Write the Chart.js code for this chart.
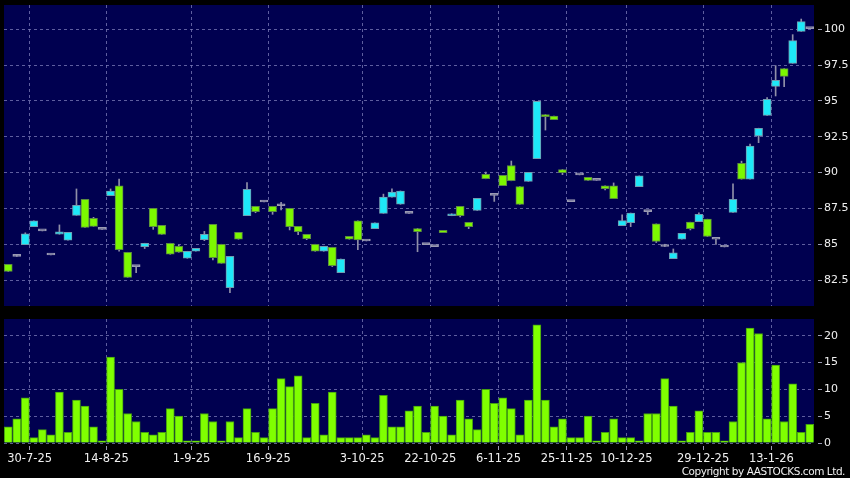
<!DOCTYPE html>
<html>
<head>
<meta charset="utf-8">
<script src="https://cdn.jsdelivr.net/npm/chart.js@4.4.1/dist/chart.umd.min.js"></script>
<style>
  html, body { margin: 0; padding: 0; background: #000; }
  #wrap { position: relative; width: 850px; height: 478px; background: #000; overflow: hidden; }
  #price { position: absolute; left: 0; top: 0; }
  #vol { position: absolute; left: 0; top: 312px; }
  #copy { position: absolute; right: 5px; top: 465px; color: #f0f0f0; font: 10.5px "DejaVu Sans", sans-serif; letter-spacing: -0.45px; }
</style>
</head>
<body>
<div id="wrap">
  <canvas id="price" width="850" height="312"></canvas>
  <canvas id="vol" width="850" height="166"></canvas>
  <div id="copy">Copyright by AASTOCKS.com Ltd.</div>
</div>
<script>
// daily candles, oldest first
var openPrice = [83.6,84.15,84.97,86.23,85.93,84.25,85.7,85.28,87.02,88.14,
  86.81,86.04,88.39,89.07,84.44,83.44,84.83,87.51,86.32,85.07,
  84.86,84.02,84.51,85.32,86.39,85.0,81.97,85.83,87.0,87.65,
  87.95,87.65,87.69,87.51,86.25,85.69,85.0,84.51,84.79,83.02,
  85.55,86.63,85.23,86.09,87.16,88.28,87.79,87.16,86.1,84.97,
  84.83,85.97,86.99,87.64,86.53,87.36,89.88,88.41,89.81,90.5,
  89.02,89.39,90.97,94.05,93.95,90.22,87.98,89.84,89.67,89.46,
  89.07,89.07,86.3,86.51,89.02,87.28,86.42,84.84,84.0,85.35,
  86.54,86.58,86.75,85.35,84.81,87.23,90.65,89.54,92.56,94.0,
  96.02,97.26,97.63,99.86,100.05];
var highPrice = [83.6,84.25,85.8,86.63,85.93,84.25,86.35,85.83,88.86,88.14,
  86.88,86.04,88.86,89.55,84.44,83.44,85.07,87.51,86.32,85.07,
  84.95,84.51,84.72,85.9,86.39,85.0,84.16,85.83,89.3,87.65,
  87.95,87.65,87.93,87.51,86.25,85.69,85.0,84.86,84.79,83.97,
  85.55,86.63,85.23,86.49,88.5,88.86,88.72,87.16,86.1,84.97,
  84.83,85.97,87.13,87.64,86.53,88.2,90.04,88.41,89.81,90.81,
  89.02,90.02,94.97,94.05,93.95,90.22,87.98,89.84,89.67,89.46,
  89.07,89.28,87.05,87.18,89.77,87.28,86.42,85.0,84.67,85.77,
  86.54,87.19,86.75,85.35,84.81,89.21,90.8,92.0,93.1,95.23,
  97.47,97.26,99.63,100.72,100.05];
var lowPrice = [83.1,84.15,84.97,86.23,85.93,84.25,85.7,85.28,87.02,86.18,
  86.25,86.04,88.39,84.51,82.69,83.02,84.7,86.04,85.69,84.3,
  84.44,84.02,84.51,85.25,83.9,83.67,81.62,85.35,87.0,87.2,
  87.95,87.09,87.39,86.0,85.67,85.32,84.51,84.51,83.44,83.02,
  85.35,84.62,85.23,86.09,87.16,88.28,87.79,87.16,84.48,84.97,
  84.83,85.81,86.99,86.9,86.09,87.36,89.57,87.99,89.09,89.43,
  87.78,89.39,90.97,92.97,93.69,89.86,87.98,89.84,89.46,89.46,
  88.79,88.18,86.3,86.23,89.02,87.07,85.12,84.84,84.0,85.35,
  86.0,86.58,85.54,84.98,84.81,87.23,89.54,89.54,92.09,94.0,
  95.35,96.0,97.63,99.86,100.05];
var closePrice = [83.1,84.15,85.72,86.63,85.93,84.25,85.86,85.83,87.72,86.18,
  86.25,86.04,88.72,84.62,82.69,83.44,85.07,86.23,85.69,84.3,
  84.44,84.51,84.72,85.69,84.07,83.67,84.16,85.35,88.83,87.28,
  87.95,87.28,87.69,86.23,85.88,85.39,84.51,84.86,83.51,83.97,
  85.35,85.3,85.23,86.49,88.3,88.65,88.72,87.16,85.88,84.97,
  84.83,85.81,87.13,86.99,86.23,88.2,89.57,88.41,89.09,89.43,
  87.78,90.02,94.97,93.9,93.69,89.99,87.98,89.84,89.46,89.46,
  88.88,88.18,86.65,87.18,89.77,87.28,85.19,84.84,84.4,85.77,
  86.09,87.09,85.54,85.35,84.81,88.14,89.54,91.86,93.1,95.12,
  96.44,96.72,99.21,100.54,100.05];
var volume = [3.0,4.5,8.4,1.0,2.5,1.5,9.5,2.0,8.0,6.9,
  3.0,0.4,16.0,10.0,5.5,4.0,2.0,1.5,2.0,6.4,
  5.0,0.4,0.4,5.5,4.0,0.4,4.0,1.0,6.4,2.0,
  1.0,6.4,12.0,10.5,12.5,1.0,7.4,1.5,9.5,1.0,
  1.0,1.0,1.5,1.0,8.9,3.0,3.0,6.0,6.9,2.0,
  6.9,5.0,1.5,8.0,4.5,2.5,10.0,7.4,8.4,6.4,
  1.5,8.0,22.0,8.0,3.0,4.5,1.0,1.0,5.0,0.4,
  2.0,4.5,1.0,1.0,0.4,5.5,5.5,12.0,6.9,0.4,
  2.0,6.0,2.0,2.0,0.4,4.0,15.0,21.4,20.4,4.5,
  14.5,4.0,11.0,2.0,3.5];

// x axis labels and the bar slot each one sits on
var dateLabels = ["30-7-25","14-8-25","1-9-25","16-9-25","3-10-25","22-10-25",
  "6-11-25","25-11-25","10-12-25","29-12-25","13-1-26"];
var dateSlots = [2.5,11.5,21.5,30.5,41.5,49.5,57.5,65.5,72.5,81.5,89.5];
var priceTicks = [82.5,85,87.5,90,92.5,95,97.5,100];
var volumeTicks = [0,5,10,15,20];

var UP = "#1ee8f8", UP_EDGE = "#6f9cb0";
var DOWN = "#7cf800", DOWN_EDGE = "#5c8c40";
var FLAT = "#9a9ab2";
var GRID = "rgba(125,125,185,0.75)";
var LABEL = "#f0f0f0";
var FONT = { family: "DejaVu Sans", size: 11 };
var DATE_FONT = { family: "DejaVu Sans", size: 11.5 };

var bodies = [], wicks = [], bodyFill = [], bodyEdge = [];
openPrice.forEach(function (o, i) {
  var c = closePrice[i];
  bodies.push({ x: i, y: [Math.min(o, c), Math.max(o, c)] });
  wicks.push({ x: i, y: [lowPrice[i], highPrice[i]] });
  if (c > o) { bodyFill.push(UP); bodyEdge.push(UP_EDGE); }
  else if (c < o) { bodyFill.push(DOWN); bodyEdge.push(DOWN_EDGE); }
  else { bodyFill.push(FLAT); bodyEdge.push(FLAT); }
});
var volBars = volume.map(function (v, i) { return { x: i, y: v }; });

// navy fill behind the plot area
var plotBg = {
  id: "plotBg",
  beforeDraw: function (chart) {
    var a = chart.chartArea, ctx = chart.ctx;
    ctx.save();
    ctx.fillStyle = "#000050";
    ctx.fillRect(a.left, a.top, a.right - a.left, a.bottom - a.top);
    ctx.restore();
  }
};

function xAxis(showLabels) {
  return {
    type: "linear", min: -0.5, max: 94.5, offset: false,
    afterBuildTicks: function (axis) {
      axis.ticks = dateSlots.map(function (v) { return { value: v }; });
    },
    afterFit: function (axis) {
      axis.height = showLabels ? 35 : 0;
      axis.paddingLeft = 0; axis.paddingRight = 0;
    },
    ticks: {
      display: showLabels, autoSkip: false, maxRotation: 0, color: LABEL, font: DATE_FONT, padding: 2,
      callback: function (v) { var k = dateSlots.indexOf(v); return k >= 0 ? dateLabels[k] : ""; }
    },
    grid: { offset: false, color: GRID, drawTicks: showLabels, tickLength: 7, tickColor: "#9a9ab2", tickBorderDash: [0, 3, 4, 0] },
    border: { display: false, dash: [3, 3] }
  };
}

function yAxis(min, max, list) {
  return {
    position: "right", min: min, max: max,
    afterBuildTicks: function (axis) {
      axis.ticks = list.map(function (v) { return { value: v }; });
    },
    afterFit: function (axis) {
      axis.width = 36;
      axis.paddingTop = 0; axis.paddingBottom = 0;
    },
    ticks: { color: LABEL, font: FONT, padding: 2 },
    grid: { color: GRID, tickLength: 8, tickColor: "#9a9ab2", tickBorderDash: [0, 4, 4, 0] },
    border: { display: false, dash: [3, 3] }
  };
}

new Chart(document.getElementById("price"), {
  type: "bar",
  data: {
    datasets: [
      { label: "body", data: bodies, backgroundColor: bodyFill, borderColor: bodyEdge,
        borderWidth: 1, borderSkipped: false, barThickness: 8, minBarLength: 2, grouped: false, order: 0 },
      { label: "wick", data: wicks, backgroundColor: "#9090a8", barThickness: 1, grouped: false, order: 1 }
    ]
  },
  options: {
    responsive: false, animation: false,
    layout: { padding: { left: 4, top: 5, right: 0, bottom: 6 } },
    plugins: { legend: { display: false }, tooltip: { enabled: false } },
    scales: { x: xAxis(false), y: yAxis(80.69, 101.7, priceTicks) }
  },
  plugins: [plotBg]
});

new Chart(document.getElementById("vol"), {
  type: "bar",
  data: {
    datasets: [
      { label: "volume", data: volBars, backgroundColor: "#80ff00", borderColor: "#44a010",
        borderWidth: 1, barThickness: 8 }
    ]
  },
  options: {
    responsive: false, animation: false,
    layout: { padding: { left: 4, top: 7, right: 0, bottom: 0 } },
    plugins: { legend: { display: false }, tooltip: { enabled: false } },
    scales: { x: xAxis(true), y: yAxis(0, 23.1, volumeTicks) }
  },
  plugins: [plotBg]
});
</script>
</body>
</html>
